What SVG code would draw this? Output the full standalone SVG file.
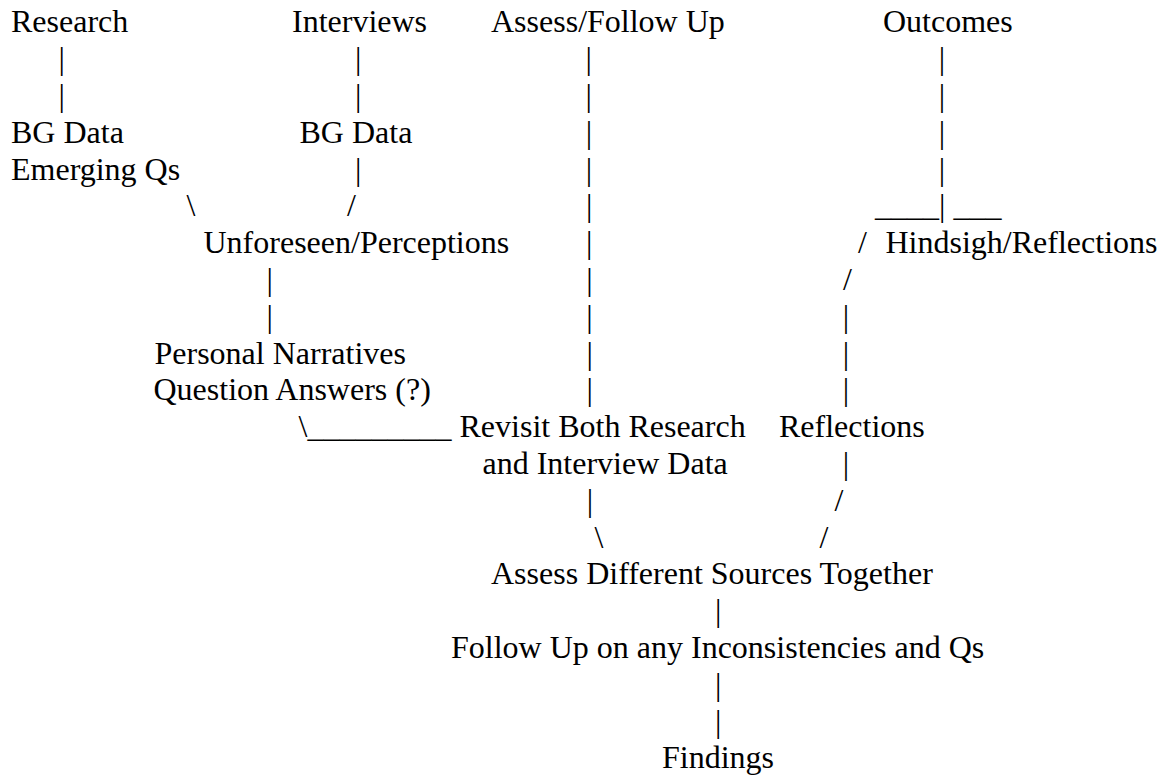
<svg xmlns="http://www.w3.org/2000/svg" width="1168" height="778" viewBox="0 0 1168 778">
<style>
text { font-family: "Liberation Serif", "Times New Roman", serif; font-size: 32px; fill: #000; }
</style>
<rect width="1168" height="778" fill="#fff"/>
<g id="connectors">
  <text x="58.5" y="69.1">|</text>
  <text x="58.5" y="105.9">|</text>
  <text x="186.4" y="216.3">\</text>
  <text x="355.1" y="69.1">|</text>
  <text x="355.1" y="105.9">|</text>
  <text x="355.1" y="179.5">|</text>
  <text x="346.9" y="216.3">/</text>
  <text x="266.5" y="289.9">|</text>
  <text x="266.5" y="326.7">|</text>
  <text x="298.5" y="437.1">\_________</text>
  <text x="585.6" y="69.1">|</text>
  <text x="585.6" y="105.9">|</text>
  <text x="585.8" y="142.7">|</text>
  <text x="585.8" y="179.5">|</text>
  <text x="586" y="216.3">|</text>
  <text x="586" y="253.1">|</text>
  <text x="586.2" y="289.9">|</text>
  <text x="586.2" y="326.7">|</text>
  <text x="586.5" y="363.5">|</text>
  <text x="586.5" y="400.3">|</text>
  <text x="586.8" y="510.7">|</text>
  <text x="594.5" y="547.5">\</text>
  <text x="938.8" y="69.1">|</text>
  <text x="938.8" y="105.9">|</text>
  <text x="938.8" y="142.7">|</text>
  <text x="938.8" y="179.5">|</text>
  <text x="875" y="216.3">____</text>
  <text x="939" y="216.3">|</text>
  <text x="953.4" y="216.3">___</text>
  <text x="858" y="253.1">/</text>
  <text x="843" y="289.9">/</text>
  <text x="842.8" y="326.7">|</text>
  <text x="842.8" y="363.5">|</text>
  <text x="842.8" y="400.3">|</text>
  <text x="842.8" y="473.9">|</text>
  <text x="834.5" y="510.7">/</text>
  <text x="819.5" y="547.5">/</text>
  <text x="715.1" y="621.1">|</text>
  <text x="715.1" y="694.7">|</text>
  <text x="715.1" y="731.5">|</text>
</g>
<g id="research"><text x="11" y="32.3">Research</text></g>
<g id="interviews"><text x="292" y="32.3">Interviews</text></g>
<g id="assess-follow-up"><text x="491" y="32.3">Assess/Follow Up</text></g>
<g id="outcomes"><text x="883" y="32.3">Outcomes</text></g>
<g id="bg-data-research"><text x="11" y="142.7">BG Data</text><text x="11" y="179.5">Emerging Qs</text></g>
<g id="bg-data-interviews"><text x="299.5" y="142.7">BG Data</text></g>
<g id="unforeseen"><text x="203.5" y="253.1">Unforeseen/Perceptions</text></g>
<g id="hindsight"><text x="885.5" y="253.1">Hindsigh/Reflections</text></g>
<g id="narratives"><text x="154.5" y="363.5">Personal Narratives</text><text x="153.5" y="400.3">Question Answers (?)</text></g>
<g id="revisit"><text x="459.5" y="437.1">Revisit Both Research</text><text x="482.5" y="473.9">and Interview Data</text></g>
<g id="reflections"><text x="779" y="437.1">Reflections</text></g>
<g id="assess-together"><text x="491" y="584.3">Assess Different Sources Together</text></g>
<g id="follow-up"><text x="451" y="657.9">Follow Up on any Inconsistencies and Qs</text></g>
<g id="findings"><text x="662" y="768.3">Findings</text></g>
</svg>
